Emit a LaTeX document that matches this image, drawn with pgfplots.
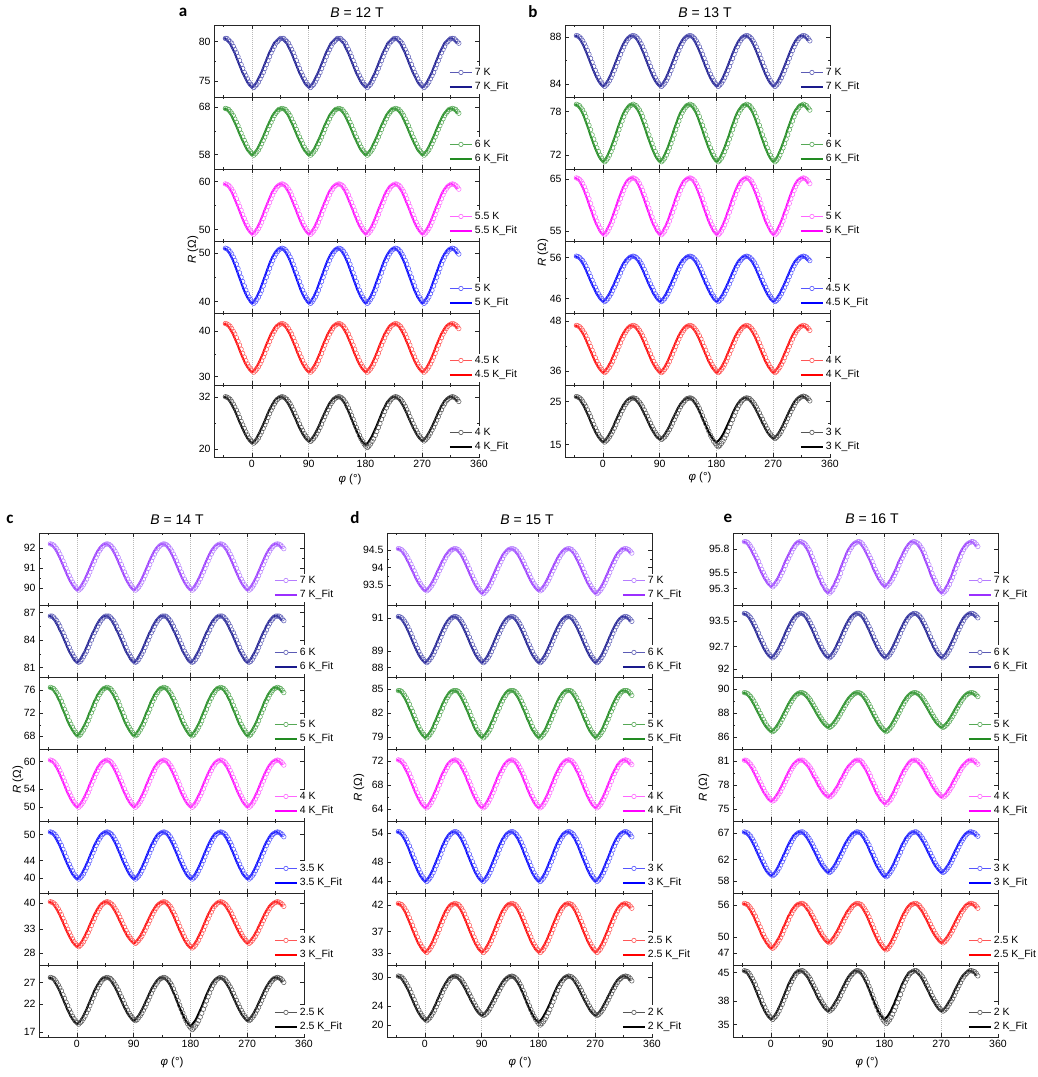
\documentclass[border=0pt]{standalone}
\usepackage{pgfplots}
\usepackage{pgfplotstable}
\pgfplotsset{compat=1.18}
\usepackage{fontspec}
\setmainfont{Liberation Sans}
\newfontfamily\letterfont{Carlito}

\definecolor{navyF}{HTML}{1A1A8C}
\definecolor{navyD}{HTML}{5B5BB5}
\definecolor{greenF}{HTML}{228B22}
\definecolor{greenD}{HTML}{55A855}
\definecolor{magF}{HTML}{FF00FF}
\definecolor{magD}{HTML}{FF66FF}
\definecolor{bluF}{HTML}{0000FF}
\definecolor{bluD}{HTML}{5555FF}
\definecolor{redF}{HTML}{FF0000}
\definecolor{redD}{HTML}{FF5555}
\definecolor{blkF}{HTML}{000000}
\definecolor{blkD}{HTML}{555555}
\definecolor{purF}{HTML}{9B30FF}
\definecolor{purD}{HTML}{B57CFF}

\pgfplotsset{
  sub/.style={width=265pt,height=72pt,scale only axis,xmin=-60,xmax=360,
    xtick={0,90,180,270,360},minor xtick={-45,45,135,225,315},xticklabels={},
    tick pos=both,tick align=inside,major tick length=4pt,minor tick length=2.2pt,
    minor y tick num=1,
    xmajorgrids,major grid style={gray!55,line width=0.5pt,dash pattern=on 1.2pt off 0.8pt},
    axis line style={line width=0.9pt,black!85},
    tick style={line width=0.6pt,black!85},
    tick label style={font=\fontsize{10.5}{12}\selectfont},
    /pgf/number format/assume math mode=true,
    legend style={at={(axis description cs:0.884,0.04)},anchor=south west,draw=none,fill=white,
      inner sep=0.5pt,font=\fontsize{10.5}{11}\selectfont,row sep=1.5pt},
    legend cell align=left,
    anchor=north west},
  bot/.style={xticklabels={0,90,180,270,360}},
  dat/.style={color=#1,only marks,mark=o,mark size=2.3pt,mark options={line width=0.5pt},
    legend image code/.code={\draw[#1,line width=0.6pt](0pt,0pt)--(22pt,0pt);
      \draw[#1,fill=white,line width=0.6pt](11pt,0pt) circle (2.2pt);}},
  fit/.style={color=#1,no marks,smooth,line width=2pt,
    legend image code/.code={\draw[#1,line width=2pt](0pt,0pt)--(22pt,0pt);}},
}

\pgfplotstableread{
xf xd a1 a2 a3 a4 a5 a6 a6d
-45 -42 80.4 67.7 59.5 51.0 41.6 32.1 32.1
-42.5 -39.5 80.4 67.6 59.4 50.9 41.5 32.0 32.0
-40 -37 80.2 67.5 59.2 50.7 41.3 31.8 31.8
-37.5 -34.5 80.0 67.1 58.9 50.3 41.0 31.5 31.5
-35 -32 79.8 66.7 58.4 49.8 40.5 31.0 31.0
-32.5 -29.5 79.4 66.2 57.9 49.2 39.9 30.4 30.4
-30 -27 79.0 65.5 57.2 48.5 39.3 29.7 29.7
-27.5 -24.5 78.6 64.8 56.4 47.7 38.5 29.0 29.0
-25 -22 78.1 64.1 55.6 46.8 37.7 28.2 28.2
-22.5 -19.5 77.6 63.3 54.8 45.9 36.9 27.3 27.3
-20 -17 77.1 62.5 54.0 45.0 36.0 26.4 26.4
-17.5 -14.5 76.6 61.7 53.1 44.1 35.1 25.6 25.6
-15 -12 76.1 61.0 52.3 43.2 34.3 24.8 24.8
-12.5 -9.5 75.7 60.3 51.5 42.3 33.5 24.0 24.0
-10 -7 75.3 59.6 50.8 41.6 32.8 23.3 23.3
-7.5 -4.5 74.9 59.0 50.2 40.9 32.2 22.6 22.6
-5 -2 74.6 58.6 49.7 40.4 31.7 22.1 22.1
-2.5 0.5 74.4 58.2 49.3 39.9 31.3 21.7 21.7
0 3 74.2 57.9 49.0 39.6 31.0 21.4 21.4
2.5 5.5 74.4 58.2 49.3 39.9 31.3 21.7 21.7
5 8 74.6 58.6 49.7 40.4 31.7 22.1 22.1
7.5 10.5 74.9 59.0 50.2 40.9 32.2 22.6 22.6
10 13 75.3 59.6 50.8 41.6 32.8 23.3 23.3
12.5 15.5 75.7 60.3 51.5 42.3 33.5 24.0 24.0
15 18 76.1 61.0 52.3 43.2 34.3 24.8 24.8
17.5 20.5 76.6 61.7 53.1 44.1 35.1 25.6 25.6
20 23 77.1 62.5 54.0 45.0 36.0 26.4 26.4
22.5 25.5 77.6 63.3 54.8 45.9 36.9 27.3 27.3
25 28 78.1 64.1 55.6 46.8 37.7 28.2 28.2
27.5 30.5 78.6 64.8 56.4 47.7 38.5 29.0 29.0
30 33 79.0 65.5 57.2 48.5 39.3 29.7 29.7
32.5 35.5 79.4 66.2 57.9 49.2 39.9 30.4 30.4
35 38 79.8 66.7 58.4 49.8 40.5 31.0 31.0
37.5 40.5 80.0 67.1 58.9 50.3 41.0 31.5 31.5
40 43 80.2 67.5 59.2 50.7 41.3 31.8 31.8
42.5 45.5 80.4 67.6 59.4 50.9 41.5 32.0 32.0
45 48 80.4 67.7 59.5 51.0 41.6 32.1 32.1
47.5 50.5 80.4 67.6 59.4 50.9 41.5 32.0 32.0
50 53 80.2 67.5 59.2 50.7 41.3 31.8 31.8
52.5 55.5 80.0 67.1 58.9 50.3 41.0 31.5 31.5
55 58 79.8 66.7 58.4 49.8 40.5 31.0 31.0
57.5 60.5 79.4 66.2 57.9 49.2 39.9 30.5 30.5
60 63 79.0 65.5 57.2 48.5 39.3 29.8 29.8
62.5 65.5 78.6 64.8 56.4 47.7 38.5 29.1 29.1
65 68 78.1 64.1 55.6 46.8 37.7 28.3 28.3
67.5 70.5 77.6 63.3 54.8 45.9 36.9 27.5 27.5
70 73 77.1 62.5 54.0 45.0 36.0 26.7 26.7
72.5 75.5 76.6 61.7 53.1 44.1 35.1 25.8 25.8
75 78 76.1 61.0 52.3 43.2 34.3 25.0 25.0
77.5 80.5 75.7 60.3 51.5 42.3 33.5 24.3 24.3
80 83 75.3 59.6 50.8 41.6 32.8 23.6 23.6
82.5 85.5 74.9 59.0 50.2 40.9 32.2 23.0 23.0
85 88 74.6 58.6 49.7 40.4 31.7 22.5 22.5
87.5 90.5 74.4 58.2 49.3 39.9 31.3 22.1 22.1
90 93 74.2 57.9 49.0 39.6 31.0 21.8 21.8
92.5 95.5 74.4 58.2 49.3 39.9 31.3 22.1 22.1
95 98 74.6 58.6 49.7 40.4 31.7 22.5 22.5
97.5 100.5 74.9 59.0 50.2 40.9 32.2 23.0 23.0
100 103 75.3 59.6 50.8 41.6 32.8 23.6 23.6
102.5 105.5 75.7 60.3 51.5 42.3 33.5 24.3 24.3
105 108 76.1 61.0 52.3 43.2 34.3 25.0 25.0
107.5 110.5 76.6 61.7 53.1 44.1 35.1 25.8 25.8
110 113 77.1 62.5 54.0 45.0 36.0 26.7 26.7
112.5 115.5 77.6 63.3 54.8 45.9 36.9 27.5 27.5
115 118 78.1 64.1 55.6 46.8 37.7 28.3 28.3
117.5 120.5 78.6 64.8 56.4 47.7 38.5 29.1 29.1
120 123 79.0 65.5 57.2 48.5 39.3 29.8 29.8
122.5 125.5 79.4 66.2 57.9 49.2 39.9 30.5 30.5
125 128 79.8 66.7 58.4 49.8 40.5 31.0 31.0
127.5 130.5 80.0 67.1 58.9 50.3 41.0 31.5 31.5
130 133 80.2 67.5 59.2 50.7 41.3 31.8 31.8
132.5 135.5 80.4 67.6 59.4 50.9 41.5 32.0 32.0
135 138 80.4 67.7 59.5 51.0 41.6 32.1 32.1
137.5 140.5 80.4 67.6 59.4 50.9 41.5 32.0 32.0
140 143 80.2 67.5 59.2 50.7 41.3 31.8 31.8
142.5 145.5 80.0 67.1 58.9 50.3 41.0 31.4 31.4
145 148 79.8 66.7 58.4 49.8 40.5 31.0 30.9
147.5 150.5 79.4 66.2 57.9 49.2 39.9 30.4 30.3
150 153 79.0 65.5 57.2 48.5 39.3 29.6 29.5
152.5 155.5 78.6 64.8 56.4 47.7 38.5 28.9 28.7
155 158 78.1 64.1 55.6 46.8 37.7 28.0 27.8
157.5 160.5 77.6 63.3 54.8 45.9 36.9 27.1 26.9
160 163 77.1 62.5 54.0 45.0 36.0 26.2 25.9
162.5 165.5 76.6 61.7 53.1 44.1 35.1 25.3 25.0
165 168 76.1 61.0 52.3 43.2 34.3 24.5 24.1
167.5 170.5 75.7 60.3 51.5 42.3 33.5 23.7 23.2
170 173 75.3 59.6 50.8 41.6 32.8 22.9 22.4
172.5 175.5 74.9 59.0 50.2 40.9 32.2 22.3 21.8
175 178 74.6 58.6 49.7 40.4 31.7 21.7 21.2
177.5 180.5 74.4 58.2 49.3 39.9 31.3 21.3 20.7
180 183 74.2 57.9 49.0 39.6 31.0 21.0 20.4
182.5 185.5 74.4 58.2 49.3 39.9 31.3 21.3 20.7
185 188 74.6 58.6 49.7 40.4 31.7 21.7 21.2
187.5 190.5 74.9 59.0 50.2 40.9 32.2 22.3 21.8
190 193 75.3 59.6 50.8 41.6 32.8 22.9 22.4
192.5 195.5 75.7 60.3 51.5 42.3 33.5 23.7 23.2
195 198 76.1 61.0 52.3 43.2 34.3 24.5 24.1
197.5 200.5 76.6 61.7 53.1 44.1 35.1 25.3 25.0
200 203 77.1 62.5 54.0 45.0 36.0 26.2 25.9
202.5 205.5 77.6 63.3 54.8 45.9 36.9 27.1 26.9
205 208 78.1 64.1 55.6 46.8 37.7 28.0 27.8
207.5 210.5 78.6 64.8 56.4 47.7 38.5 28.9 28.7
210 213 79.0 65.5 57.2 48.5 39.3 29.6 29.5
212.5 215.5 79.4 66.2 57.9 49.2 39.9 30.4 30.3
215 218 79.8 66.7 58.4 49.8 40.5 31.0 30.9
217.5 220.5 80.0 67.1 58.9 50.3 41.0 31.4 31.4
220 223 80.2 67.5 59.2 50.7 41.3 31.8 31.8
222.5 225.5 80.4 67.6 59.4 50.9 41.5 32.0 32.0
225 228 80.4 67.7 59.5 51.0 41.6 32.1 32.1
227.5 230.5 80.4 67.6 59.4 50.9 41.5 32.0 32.0
230 233 80.2 67.5 59.2 50.7 41.3 31.8 31.8
232.5 235.5 80.0 67.1 58.9 50.3 41.0 31.5 31.5
235 238 79.8 66.7 58.4 49.8 40.5 31.1 31.1
237.5 240.5 79.4 66.2 57.9 49.2 39.9 30.5 30.5
240 243 79.0 65.5 57.2 48.5 39.3 29.9 29.9
242.5 245.5 78.6 64.8 56.4 47.7 38.5 29.1 29.1
245 248 78.1 64.1 55.6 46.8 37.7 28.4 28.4
247.5 250.5 77.6 63.3 54.8 45.9 36.9 27.5 27.5
250 253 77.1 62.5 54.0 45.0 36.0 26.7 26.7
252.5 255.5 76.6 61.7 53.1 44.1 35.1 25.9 25.9
255 258 76.1 61.0 52.3 43.2 34.3 25.1 25.1
257.5 260.5 75.7 60.3 51.5 42.3 33.5 24.4 24.4
260 263 75.3 59.6 50.8 41.6 32.8 23.7 23.7
262.5 265.5 74.9 59.0 50.2 40.9 32.2 23.1 23.1
265 268 74.6 58.6 49.7 40.4 31.7 22.6 22.6
267.5 270.5 74.4 58.2 49.3 39.9 31.3 22.2 22.2
270 273 74.2 57.9 49.0 39.6 31.0 21.9 21.9
272.5 275.5 74.4 58.2 49.3 39.9 31.3 22.2 22.2
275 278 74.6 58.6 49.7 40.4 31.7 22.6 22.6
277.5 280.5 74.9 59.0 50.2 40.9 32.2 23.1 23.1
280 283 75.3 59.6 50.8 41.6 32.8 23.7 23.7
282.5 285.5 75.7 60.3 51.5 42.3 33.5 24.4 24.4
285 288 76.1 61.0 52.3 43.2 34.3 25.1 25.1
287.5 290.5 76.6 61.7 53.1 44.1 35.1 25.9 25.9
290 293 77.1 62.5 54.0 45.0 36.0 26.7 26.7
292.5 295.5 77.6 63.3 54.8 45.9 36.9 27.5 27.5
295 298 78.1 64.1 55.6 46.8 37.7 28.4 28.4
297.5 300.5 78.6 64.8 56.4 47.7 38.5 29.1 29.1
300 303 79.0 65.5 57.2 48.5 39.3 29.9 29.9
302.5 305.5 79.4 66.2 57.9 49.2 39.9 30.5 30.5
305 308 79.8 66.7 58.4 49.8 40.5 31.1 31.1
307.5 310.5 80.0 67.1 58.9 50.3 41.0 31.5 31.5
310 313 80.2 67.5 59.2 50.7 41.3 31.8 31.8
312.5 315.5 80.4 67.6 59.4 50.9 41.5 32.0 32.0
315 318 80.4 67.7 59.5 51.0 41.6 32.1 32.1
317.5 320.5 80.4 67.6 59.4 50.9 41.5 32.0 32.0
320 323 80.2 67.5 59.2 50.7 41.3 31.8 31.8
322.5 325.5 80.0 67.1 58.9 50.3 41.0 31.5 31.5
325 328 79.8 66.7 58.4 49.8 40.5 31.0 31.0
}\TA

\pgfplotstableread{
xf xd b1 b2 b3 b4 b5 b6 b6d
-45 -42 88.1 79.0 65.2 56.4 47.0 26.2 26.2
-42.5 -39.5 88.07 78.9 65.1 56.3 46.9 26.1 26.1
-40 -37 87.99 78.8 64.9 56.1 46.7 25.9 25.9
-37.5 -34.5 87.85 78.5 64.6 55.7 46.3 25.6 25.6
-35 -32 87.66 78.2 64.1 55.3 45.8 25.1 25.1
-32.5 -29.5 87.42 77.8 63.5 54.7 45.2 24.5 24.5
-30 -27 87.15 77.3 62.8 54.0 44.5 23.9 23.9
-27.5 -24.5 86.84 76.7 62.0 53.2 43.7 23.1 23.1
-25 -22 86.52 76.1 61.2 52.3 42.8 22.3 22.3
-22.5 -19.5 86.17 75.5 60.3 51.4 41.9 21.5 21.5
-20 -17 85.83 74.8 59.4 50.5 41.0 20.6 20.6
-17.5 -14.5 85.48 74.2 58.6 49.6 40.1 19.7 19.7
-15 -12 85.15 73.6 57.7 48.8 39.2 18.9 18.9
-12.5 -9.5 84.83 73.0 56.9 48.0 38.3 18.1 18.1
-10 -7 84.54 72.5 56.2 47.2 37.6 17.4 17.4
-7.5 -4.5 84.29 72.0 55.6 46.6 36.9 16.8 16.8
-5 -2 84.08 71.6 55.0 46.0 36.4 16.3 16.3
-2.5 0.5 83.92 71.3 54.6 45.6 35.9 15.9 15.9
0 3 83.8 71.1 54.3 45.3 35.6 15.6 15.6
2.5 5.5 83.92 71.3 54.6 45.6 35.9 15.9 15.9
5 8 84.08 71.6 55.0 46.0 36.4 16.3 16.3
7.5 10.5 84.29 72.0 55.6 46.6 36.9 16.8 16.8
10 13 84.54 72.5 56.2 47.2 37.6 17.4 17.4
12.5 15.5 84.83 73.0 56.9 48.0 38.3 18.1 18.1
15 18 85.15 73.6 57.7 48.8 39.2 18.8 18.8
17.5 20.5 85.48 74.2 58.6 49.6 40.1 19.6 19.6
20 23 85.83 74.8 59.4 50.5 41.0 20.5 20.5
22.5 25.5 86.17 75.5 60.3 51.4 41.9 21.3 21.3
25 28 86.52 76.1 61.2 52.3 42.8 22.1 22.1
27.5 30.5 86.84 76.7 62.0 53.2 43.7 22.9 22.9
30 33 87.15 77.3 62.8 54.0 44.5 23.6 23.6
32.5 35.5 87.42 77.8 63.5 54.7 45.2 24.3 24.3
35 38 87.66 78.2 64.1 55.3 45.8 24.8 24.8
37.5 40.5 87.85 78.5 64.6 55.7 46.3 25.3 25.3
40 43 87.99 78.8 64.9 56.1 46.7 25.6 25.6
42.5 45.5 88.07 78.9 65.1 56.3 46.9 25.8 25.8
45 48 88.1 79.0 65.2 56.4 47.0 25.9 25.9
47.5 50.5 88.07 78.9 65.1 56.3 46.9 25.8 25.8
50 53 87.99 78.8 64.9 56.1 46.7 25.7 25.7
52.5 55.5 87.85 78.5 64.6 55.7 46.3 25.3 25.3
55 58 87.66 78.2 64.1 55.3 45.8 24.9 24.9
57.5 60.5 87.42 77.8 63.5 54.7 45.2 24.4 24.4
60 63 87.15 77.3 62.8 54.0 44.5 23.8 23.8
62.5 65.5 86.84 76.7 62.0 53.2 43.7 23.1 23.1
65 68 86.52 76.1 61.2 52.3 42.8 22.3 22.3
67.5 70.5 86.17 75.5 60.3 51.4 41.9 21.6 21.6
70 73 85.83 74.8 59.4 50.5 41.0 20.8 20.8
72.5 75.5 85.48 74.2 58.6 49.6 40.1 20.0 20.0
75 78 85.15 73.6 57.7 48.8 39.2 19.2 19.2
77.5 80.5 84.83 73.0 56.9 48.0 38.3 18.5 18.5
80 83 84.54 72.5 56.2 47.2 37.6 17.9 17.9
82.5 85.5 84.29 72.0 55.6 46.6 36.9 17.3 17.3
85 88 84.08 71.6 55.0 46.0 36.4 16.8 16.8
87.5 90.5 83.92 71.3 54.6 45.6 35.9 16.5 16.5
90 93 83.8 71.1 54.3 45.3 35.6 16.2 16.2
92.5 95.5 83.92 71.3 54.6 45.6 35.9 16.5 16.5
95 98 84.08 71.6 55.0 46.0 36.4 16.8 16.8
97.5 100.5 84.29 72.0 55.6 46.6 36.9 17.3 17.3
100 103 84.54 72.5 56.2 47.2 37.6 17.9 17.9
102.5 105.5 84.83 73.0 56.9 48.0 38.3 18.5 18.5
105 108 85.15 73.6 57.7 48.8 39.2 19.2 19.2
107.5 110.5 85.48 74.2 58.6 49.6 40.1 20.0 20.0
110 113 85.83 74.8 59.4 50.5 41.0 20.8 20.8
112.5 115.5 86.17 75.5 60.3 51.4 41.9 21.6 21.6
115 118 86.52 76.1 61.2 52.3 42.8 22.3 22.3
117.5 120.5 86.84 76.7 62.0 53.2 43.7 23.1 23.1
120 123 87.15 77.3 62.8 54.0 44.5 23.8 23.8
122.5 125.5 87.42 77.8 63.5 54.7 45.2 24.4 24.4
125 128 87.66 78.2 64.1 55.3 45.8 24.9 24.9
127.5 130.5 87.85 78.5 64.6 55.7 46.3 25.3 25.3
130 133 87.99 78.8 64.9 56.1 46.7 25.7 25.7
132.5 135.5 88.07 78.9 65.1 56.3 46.9 25.8 25.8
135 138 88.1 79.0 65.2 56.4 47.0 25.9 25.9
137.5 140.5 88.07 78.9 65.1 56.3 46.9 25.8 25.8
140 143 87.99 78.8 64.9 56.1 46.7 25.6 25.6
142.5 145.5 87.85 78.5 64.6 55.7 46.3 25.3 25.2
145 148 87.66 78.2 64.1 55.3 45.8 24.8 24.7
147.5 150.5 87.42 77.8 63.5 54.7 45.2 24.3 24.1
150 153 87.15 77.3 62.8 54.0 44.5 23.6 23.4
152.5 155.5 86.84 76.7 62.0 53.2 43.7 22.9 22.6
155 158 86.52 76.1 61.2 52.3 42.8 22.1 21.7
157.5 160.5 86.17 75.5 60.3 51.4 41.9 21.2 20.8
160 163 85.83 74.8 59.4 50.5 41.0 20.4 19.9
162.5 165.5 85.48 74.2 58.6 49.6 40.1 19.6 19.0
165 168 85.15 73.6 57.7 48.8 39.2 18.8 18.1
167.5 170.5 84.83 73.0 56.9 48.0 38.3 18.0 17.2
170 173 84.54 72.5 56.2 47.2 37.6 17.3 16.5
172.5 175.5 84.29 72.0 55.6 46.6 36.9 16.7 15.8
175 178 84.08 71.6 55.0 46.0 36.4 16.2 15.3
177.5 180.5 83.92 71.3 54.6 45.6 35.9 15.8 14.8
180 183 83.8 71.1 54.3 45.3 35.6 15.5 14.5
182.5 185.5 83.92 71.3 54.6 45.6 35.9 15.8 14.8
185 188 84.08 71.6 55.0 46.0 36.4 16.2 15.3
187.5 190.5 84.29 72.0 55.6 46.6 36.9 16.7 15.8
190 193 84.54 72.5 56.2 47.2 37.6 17.3 16.5
192.5 195.5 84.83 73.0 56.9 48.0 38.3 18.0 17.2
195 198 85.15 73.6 57.7 48.8 39.2 18.8 18.1
197.5 200.5 85.48 74.2 58.6 49.6 40.1 19.6 19.0
200 203 85.83 74.8 59.4 50.5 41.0 20.4 19.9
202.5 205.5 86.17 75.5 60.3 51.4 41.9 21.2 20.8
205 208 86.52 76.1 61.2 52.3 42.8 22.1 21.7
207.5 210.5 86.84 76.7 62.0 53.2 43.7 22.9 22.6
210 213 87.15 77.3 62.8 54.0 44.5 23.6 23.4
212.5 215.5 87.42 77.8 63.5 54.7 45.2 24.3 24.1
215 218 87.66 78.2 64.1 55.3 45.8 24.8 24.7
217.5 220.5 87.85 78.5 64.6 55.7 46.3 25.3 25.2
220 223 87.99 78.8 64.9 56.1 46.7 25.6 25.6
222.5 225.5 88.07 78.9 65.1 56.3 46.9 25.8 25.8
225 228 88.1 79.0 65.2 56.4 47.0 25.9 25.9
227.5 230.5 88.07 78.9 65.1 56.3 46.9 25.8 25.8
230 233 87.99 78.8 64.9 56.1 46.7 25.7 25.7
232.5 235.5 87.85 78.5 64.6 55.7 46.3 25.3 25.3
235 238 87.66 78.2 64.1 55.3 45.8 24.9 24.9
237.5 240.5 87.42 77.8 63.5 54.7 45.2 24.4 24.4
240 243 87.15 77.3 62.8 54.0 44.5 23.8 23.8
242.5 245.5 86.84 76.7 62.0 53.2 43.7 23.1 23.1
245 248 86.52 76.1 61.2 52.3 42.8 22.4 22.4
247.5 250.5 86.17 75.5 60.3 51.4 41.9 21.6 21.6
250 253 85.83 74.8 59.4 50.5 41.0 20.9 20.9
252.5 255.5 85.48 74.2 58.6 49.6 40.1 20.1 20.1
255 258 85.15 73.6 57.7 48.8 39.2 19.4 19.4
257.5 260.5 84.83 73.0 56.9 48.0 38.3 18.7 18.7
260 263 84.54 72.5 56.2 47.2 37.6 18.0 18.0
262.5 265.5 84.29 72.0 55.6 46.6 36.9 17.5 17.5
265 268 84.08 71.6 55.0 46.0 36.4 17.0 17.0
267.5 270.5 83.92 71.3 54.6 45.6 35.9 16.7 16.7
270 273 83.8 71.1 54.3 45.3 35.6 16.4 16.4
272.5 275.5 83.92 71.3 54.6 45.6 35.9 16.7 16.7
275 278 84.08 71.6 55.0 46.0 36.4 17.1 17.1
277.5 280.5 84.29 72.0 55.6 46.6 36.9 17.5 17.5
280 283 84.54 72.5 56.2 47.2 37.6 18.1 18.1
282.5 285.5 84.83 73.0 56.9 48.0 38.3 18.8 18.8
285 288 85.15 73.6 57.7 48.8 39.2 19.5 19.5
287.5 290.5 85.48 74.2 58.6 49.6 40.1 20.3 20.3
290 293 85.83 74.8 59.4 50.5 41.0 21.1 21.1
292.5 295.5 86.17 75.5 60.3 51.4 41.9 21.9 21.9
295 298 86.52 76.1 61.2 52.3 42.8 22.7 22.7
297.5 300.5 86.84 76.7 62.0 53.2 43.7 23.4 23.4
300 303 87.15 77.3 62.8 54.0 44.5 24.1 24.1
302.5 305.5 87.42 77.8 63.5 54.7 45.2 24.8 24.8
305 308 87.66 78.2 64.1 55.3 45.8 25.3 25.3
307.5 310.5 87.85 78.5 64.6 55.7 46.3 25.7 25.7
310 313 87.99 78.8 64.9 56.1 46.7 26.0 26.0
312.5 315.5 88.07 78.9 65.1 56.3 46.9 26.2 26.2
315 318 88.1 79.0 65.2 56.4 47.0 26.3 26.3
317.5 320.5 88.07 78.9 65.1 56.3 46.9 26.2 26.2
320 323 87.99 78.8 64.9 56.1 46.7 26.0 26.0
322.5 325.5 87.85 78.5 64.6 55.7 46.3 25.7 25.7
325 328 87.66 78.2 64.1 55.3 45.8 25.2 25.2
}\TB

\pgfplotstableread{
xf xd c1 c2 c3 c4 c5 c6 c7 c7d
-45 -42 92.2 86.6 76.5 60.3 50.6 40.3 28.0 28.0
-42.5 -39.5 92.18 86.6 76.4 60.2 50.5 40.2 27.9 27.9
-40 -37 92.14 86.5 76.3 60.0 50.3 40.0 27.8 27.8
-37.5 -34.5 92.06 86.3 76.0 59.7 50.0 39.7 27.5 27.5
-35 -32 91.96 86.1 75.6 59.2 49.5 39.2 27.0 27.0
-32.5 -29.5 91.84 85.8 75.2 58.7 48.9 38.6 26.5 26.5
-30 -27 91.69 85.5 74.6 58.0 48.2 37.9 25.9 25.9
-27.5 -24.5 91.53 85.1 74.1 57.3 47.5 37.2 25.3 25.3
-25 -22 91.35 84.8 73.4 56.5 46.6 36.3 24.5 24.5
-22.5 -19.5 91.17 84.4 72.7 55.7 45.8 35.5 23.8 23.8
-20 -17 90.98 84.0 72.1 54.9 44.9 34.6 23.0 23.0
-17.5 -14.5 90.8 83.6 71.4 54.0 44.0 33.7 22.3 22.3
-15 -12 90.62 83.2 70.7 53.2 43.2 32.9 21.5 21.5
-12.5 -9.5 90.45 82.8 70.1 52.5 42.4 32.1 20.9 20.9
-10 -7 90.3 82.5 69.6 51.8 41.7 31.4 20.2 20.2
-7.5 -4.5 90.17 82.2 69.1 51.2 41.0 30.7 19.7 19.7
-5 -2 90.05 81.9 68.7 50.7 40.5 30.2 19.2 19.2
-2.5 0.5 89.96 81.7 68.3 50.3 40.1 29.8 18.9 18.9
0 3 89.9 81.6 68.1 50.0 39.8 29.5 18.6 18.6
2.5 5.5 89.96 81.7 68.3 50.3 40.1 29.8 18.9 18.9
5 8 90.05 81.9 68.7 50.7 40.5 30.2 19.2 19.2
7.5 10.5 90.17 82.2 69.1 51.2 41.0 30.7 19.7 19.7
10 13 90.3 82.5 69.6 51.8 41.7 31.4 20.2 20.2
12.5 15.5 90.45 82.8 70.1 52.5 42.4 32.1 20.9 20.9
15 18 90.62 83.2 70.7 53.2 43.2 32.9 21.5 21.5
17.5 20.5 90.8 83.6 71.4 54.0 44.0 33.7 22.3 22.3
20 23 90.98 84.0 72.1 54.9 44.9 34.6 23.0 23.0
22.5 25.5 91.17 84.4 72.7 55.7 45.8 35.5 23.8 23.8
25 28 91.35 84.8 73.4 56.5 46.6 36.3 24.5 24.5
27.5 30.5 91.53 85.1 74.1 57.3 47.5 37.2 25.3 25.3
30 33 91.69 85.5 74.6 58.0 48.2 37.9 25.9 25.9
32.5 35.5 91.84 85.8 75.2 58.7 48.9 38.6 26.5 26.5
35 38 91.96 86.1 75.6 59.2 49.5 39.2 27.0 27.0
37.5 40.5 92.06 86.3 76.0 59.7 50.0 39.7 27.5 27.5
40 43 92.14 86.5 76.3 60.0 50.3 40.0 27.8 27.8
42.5 45.5 92.18 86.6 76.4 60.2 50.5 40.2 27.9 27.9
45 48 92.2 86.6 76.5 60.3 50.6 40.3 28.0 28.0
47.5 50.5 92.18 86.6 76.4 60.2 50.5 40.2 27.9 27.9
50 53 92.14 86.5 76.3 60.0 50.3 40.0 27.8 27.8
52.5 55.5 92.06 86.3 76.0 59.7 50.0 39.7 27.5 27.5
55 58 91.96 86.1 75.6 59.2 49.5 39.3 27.1 27.1
57.5 60.5 91.84 85.8 75.2 58.7 48.9 38.7 26.6 26.6
60 63 91.69 85.5 74.6 58.0 48.2 38.1 26.1 26.1
62.5 65.5 91.53 85.1 74.1 57.3 47.5 37.4 25.5 25.5
65 68 91.35 84.8 73.4 56.5 46.6 36.6 24.8 24.8
67.5 70.5 91.17 84.4 72.7 55.7 45.8 35.8 24.1 24.1
70 73 90.98 84.0 72.1 54.9 44.9 35.0 23.4 23.4
72.5 75.5 90.8 83.6 71.4 54.0 44.0 34.2 22.7 22.7
75 78 90.62 83.2 70.7 53.2 43.2 33.4 22.0 22.0
77.5 80.5 90.45 82.8 70.1 52.5 42.4 32.7 21.4 21.4
80 83 90.3 82.5 69.6 51.8 41.7 32.0 20.8 20.8
82.5 85.5 90.17 82.2 69.1 51.2 41.0 31.5 20.3 20.3
85 88 90.05 81.9 68.7 50.7 40.5 31.0 19.9 19.9
87.5 90.5 89.96 81.7 68.3 50.3 40.1 30.6 19.5 19.5
90 93 89.9 81.6 68.1 50.0 39.8 30.3 19.3 19.3
92.5 95.5 89.96 81.7 68.3 50.3 40.1 30.6 19.5 19.5
95 98 90.05 81.9 68.7 50.7 40.5 31.0 19.9 19.9
97.5 100.5 90.17 82.2 69.1 51.2 41.0 31.5 20.3 20.3
100 103 90.3 82.5 69.6 51.8 41.7 32.0 20.8 20.8
102.5 105.5 90.45 82.8 70.1 52.5 42.4 32.7 21.4 21.4
105 108 90.62 83.2 70.7 53.2 43.2 33.4 22.0 22.0
107.5 110.5 90.8 83.6 71.4 54.0 44.0 34.2 22.7 22.7
110 113 90.98 84.0 72.1 54.9 44.9 35.0 23.4 23.4
112.5 115.5 91.17 84.4 72.7 55.7 45.8 35.8 24.1 24.1
115 118 91.35 84.8 73.4 56.5 46.6 36.6 24.8 24.8
117.5 120.5 91.53 85.1 74.1 57.3 47.5 37.4 25.5 25.5
120 123 91.69 85.5 74.6 58.0 48.2 38.1 26.1 26.1
122.5 125.5 91.84 85.8 75.2 58.7 48.9 38.7 26.6 26.6
125 128 91.96 86.1 75.6 59.2 49.5 39.3 27.1 27.1
127.5 130.5 92.06 86.3 76.0 59.7 50.0 39.7 27.5 27.5
130 133 92.14 86.5 76.3 60.0 50.3 40.0 27.8 27.8
132.5 135.5 92.18 86.6 76.4 60.2 50.5 40.2 27.9 27.9
135 138 92.2 86.6 76.5 60.3 50.6 40.3 28.0 28.0
137.5 140.5 92.18 86.6 76.4 60.2 50.5 40.2 27.9 27.9
140 143 92.14 86.5 76.3 60.0 50.3 40.0 27.7 27.7
142.5 145.5 92.06 86.3 76.0 59.7 50.0 39.6 27.4 27.4
145 148 91.96 86.1 75.6 59.2 49.5 39.2 27.0 26.9
147.5 150.5 91.84 85.8 75.2 58.7 48.9 38.6 26.5 26.4
150 153 91.69 85.5 74.6 58.0 48.2 37.8 25.8 25.7
152.5 155.5 91.53 85.1 74.1 57.3 47.5 37.1 25.1 24.9
155 158 91.35 84.8 73.4 56.5 46.6 36.2 24.4 24.1
157.5 160.5 91.17 84.4 72.7 55.7 45.8 35.3 23.6 23.3
160 163 90.98 84.0 72.1 54.9 44.9 34.4 22.8 22.4
162.5 165.5 90.8 83.6 71.4 54.0 44.0 33.5 22.0 21.6
165 168 90.62 83.2 70.7 53.2 43.2 32.7 21.3 20.8
167.5 170.5 90.45 82.8 70.1 52.5 42.4 31.9 20.6 20.0
170 173 90.3 82.5 69.6 51.8 41.7 31.1 19.9 19.3
172.5 175.5 90.17 82.2 69.1 51.2 41.0 30.5 19.3 18.7
175 178 90.05 81.9 68.7 50.7 40.5 29.9 18.9 18.2
177.5 180.5 89.96 81.7 68.3 50.3 40.1 29.5 18.5 17.8
180 183 89.9 81.6 68.1 50.0 39.8 29.2 18.2 17.5
182.5 185.5 89.96 81.7 68.3 50.3 40.1 29.5 18.5 17.8
185 188 90.05 81.9 68.7 50.7 40.5 29.9 18.9 18.2
187.5 190.5 90.17 82.2 69.1 51.2 41.0 30.5 19.3 18.7
190 193 90.3 82.5 69.6 51.8 41.7 31.1 19.9 19.3
192.5 195.5 90.45 82.8 70.1 52.5 42.4 31.9 20.6 20.0
195 198 90.62 83.2 70.7 53.2 43.2 32.7 21.3 20.8
197.5 200.5 90.8 83.6 71.4 54.0 44.0 33.5 22.0 21.6
200 203 90.98 84.0 72.1 54.9 44.9 34.4 22.8 22.4
202.5 205.5 91.17 84.4 72.7 55.7 45.8 35.3 23.6 23.3
205 208 91.35 84.8 73.4 56.5 46.6 36.2 24.4 24.1
207.5 210.5 91.53 85.1 74.1 57.3 47.5 37.1 25.1 24.9
210 213 91.69 85.5 74.6 58.0 48.2 37.8 25.8 25.7
212.5 215.5 91.84 85.8 75.2 58.7 48.9 38.6 26.5 26.4
215 218 91.96 86.1 75.6 59.2 49.5 39.2 27.0 26.9
217.5 220.5 92.06 86.3 76.0 59.7 50.0 39.6 27.4 27.4
220 223 92.14 86.5 76.3 60.0 50.3 40.0 27.7 27.7
222.5 225.5 92.18 86.6 76.4 60.2 50.5 40.2 27.9 27.9
225 228 92.2 86.6 76.5 60.3 50.6 40.3 28.0 28.0
227.5 230.5 92.18 86.6 76.4 60.2 50.5 40.2 27.9 27.9
230 233 92.14 86.5 76.3 60.0 50.3 40.0 27.8 27.8
232.5 235.5 92.06 86.3 76.0 59.7 50.0 39.7 27.5 27.5
235 238 91.96 86.1 75.6 59.2 49.5 39.3 27.1 27.1
237.5 240.5 91.84 85.8 75.2 58.7 48.9 38.7 26.6 26.6
240 243 91.69 85.5 74.6 58.0 48.2 38.1 26.1 26.1
242.5 245.5 91.53 85.1 74.1 57.3 47.5 37.4 25.5 25.5
245 248 91.35 84.8 73.4 56.5 46.6 36.6 24.8 24.8
247.5 250.5 91.17 84.4 72.7 55.7 45.8 35.8 24.1 24.1
250 253 90.98 84.0 72.1 54.9 44.9 35.0 23.4 23.4
252.5 255.5 90.8 83.6 71.4 54.0 44.0 34.2 22.7 22.7
255 258 90.62 83.2 70.7 53.2 43.2 33.4 22.0 22.0
257.5 260.5 90.45 82.8 70.1 52.5 42.4 32.7 21.4 21.4
260 263 90.3 82.5 69.6 51.8 41.7 32.0 20.8 20.8
262.5 265.5 90.17 82.2 69.1 51.2 41.0 31.5 20.3 20.3
265 268 90.05 81.9 68.7 50.7 40.5 31.0 19.9 19.9
267.5 270.5 89.96 81.7 68.3 50.3 40.1 30.6 19.5 19.5
270 273 89.9 81.6 68.1 50.0 39.8 30.3 19.3 19.3
272.5 275.5 89.96 81.7 68.3 50.3 40.1 30.6 19.5 19.5
275 278 90.05 81.9 68.7 50.7 40.5 31.0 19.9 19.9
277.5 280.5 90.17 82.2 69.1 51.2 41.0 31.5 20.3 20.3
280 283 90.3 82.5 69.6 51.8 41.7 32.0 20.8 20.8
282.5 285.5 90.45 82.8 70.1 52.5 42.4 32.7 21.4 21.4
285 288 90.62 83.2 70.7 53.2 43.2 33.4 22.0 22.0
287.5 290.5 90.8 83.6 71.4 54.0 44.0 34.2 22.7 22.7
290 293 90.98 84.0 72.1 54.9 44.9 35.0 23.4 23.4
292.5 295.5 91.17 84.4 72.7 55.7 45.8 35.8 24.1 24.1
295 298 91.35 84.8 73.4 56.5 46.6 36.6 24.8 24.8
297.5 300.5 91.53 85.1 74.1 57.3 47.5 37.4 25.5 25.5
300 303 91.69 85.5 74.6 58.0 48.2 38.1 26.1 26.1
302.5 305.5 91.84 85.8 75.2 58.7 48.9 38.7 26.6 26.6
305 308 91.96 86.1 75.6 59.2 49.5 39.3 27.1 27.1
307.5 310.5 92.06 86.3 76.0 59.7 50.0 39.7 27.5 27.5
310 313 92.14 86.5 76.3 60.0 50.3 40.0 27.8 27.8
312.5 315.5 92.18 86.6 76.4 60.2 50.5 40.2 27.9 27.9
315 318 92.2 86.6 76.5 60.3 50.6 40.3 28.0 28.0
317.5 320.5 92.18 86.6 76.4 60.2 50.5 40.2 27.9 27.9
320 323 92.14 86.5 76.3 60.0 50.3 40.0 27.8 27.8
322.5 325.5 92.06 86.3 76.0 59.7 50.0 39.7 27.5 27.5
325 328 91.96 86.1 75.6 59.2 49.5 39.2 27.0 27.0
}\TC

\pgfplotstableread{
xf xd d1 d2 d3 d4 d5 d6 d7 d7d
-45 -42 94.55 91.1 84.8 72.2 54.3 42.3 30.2 30.2
-42.5 -39.5 94.54 91.08 84.8 72.1 54.2 42.2 30.1 30.1
-40 -37 94.52 91.03 84.7 72.0 54.0 42.1 30.0 30.0
-37.5 -34.5 94.48 90.94 84.5 71.7 53.7 41.8 29.7 29.7
-35 -32 94.42 90.81 84.2 71.4 53.2 41.4 29.2 29.2
-32.5 -29.5 94.36 90.66 83.9 70.9 52.7 40.9 28.7 28.7
-30 -27 94.28 90.48 83.5 70.4 52.0 40.3 28.1 28.1
-27.5 -24.5 94.19 90.28 83.1 69.9 51.3 39.6 27.5 27.5
-25 -22 94.1 90.07 82.6 69.3 50.5 38.9 26.8 26.8
-22.5 -19.5 94.0 89.85 82.2 68.6 49.6 38.2 26.0 26.0
-20 -17 93.91 89.62 81.7 68.0 48.8 37.4 25.3 25.3
-17.5 -14.5 93.81 89.39 81.2 67.3 48.0 36.7 24.5 24.5
-15 -12 93.71 89.18 80.8 66.7 47.2 36.0 23.8 23.8
-12.5 -9.5 93.62 88.97 80.3 66.1 46.4 35.3 23.1 23.1
-10 -7 93.54 88.78 79.9 65.6 45.7 34.7 22.5 22.5
-7.5 -4.5 93.47 88.62 79.6 65.1 45.1 34.2 22.0 22.0
-5 -2 93.41 88.49 79.3 64.7 44.6 33.7 21.5 21.5
-2.5 0.5 93.36 88.38 79.1 64.4 44.2 33.4 21.2 21.2
0 3 93.33 88.3 78.9 64.2 43.9 33.1 20.9 20.9
2.5 5.5 93.36 88.38 79.1 64.4 44.2 33.4 21.2 21.2
5 8 93.41 88.49 79.3 64.7 44.6 33.7 21.5 21.5
7.5 10.5 93.47 88.62 79.6 65.1 45.1 34.2 22.0 22.0
10 13 93.54 88.78 79.9 65.6 45.7 34.7 22.5 22.5
12.5 15.5 93.62 88.97 80.3 66.1 46.4 35.3 23.1 23.1
15 18 93.71 89.18 80.8 66.7 47.2 36.0 23.8 23.8
17.5 20.5 93.81 89.39 81.2 67.3 48.0 36.7 24.5 24.5
20 23 93.91 89.62 81.7 68.0 48.8 37.4 25.3 25.3
22.5 25.5 94.0 89.85 82.2 68.6 49.6 38.2 26.0 26.0
25 28 94.1 90.07 82.6 69.3 50.5 38.9 26.8 26.8
27.5 30.5 94.19 90.28 83.1 69.9 51.3 39.6 27.5 27.5
30 33 94.28 90.48 83.5 70.4 52.0 40.3 28.1 28.1
32.5 35.5 94.36 90.66 83.9 70.9 52.7 40.9 28.7 28.7
35 38 94.42 90.81 84.2 71.4 53.2 41.4 29.2 29.2
37.5 40.5 94.48 90.94 84.5 71.7 53.7 41.8 29.7 29.7
40 43 94.52 91.03 84.7 72.0 54.0 42.1 30.0 30.0
42.5 45.5 94.54 91.08 84.8 72.1 54.2 42.2 30.1 30.1
45 48 94.55 91.1 84.8 72.2 54.3 42.3 30.2 30.2
47.5 50.5 94.54 91.08 84.8 72.1 54.2 42.2 30.1 30.1
50 53 94.52 91.03 84.7 72.0 54.0 42.1 30.0 30.0
52.5 55.5 94.47 90.94 84.5 71.7 53.7 41.8 29.7 29.7
55 58 94.42 90.81 84.2 71.4 53.2 41.4 29.4 29.4
57.5 60.5 94.35 90.66 83.9 70.9 52.7 40.9 28.9 28.9
60 63 94.26 90.48 83.5 70.4 52.0 40.3 28.4 28.4
62.5 65.5 94.17 90.28 83.1 69.9 51.3 39.6 27.8 27.8
65 68 94.07 90.07 82.6 69.3 50.5 38.9 27.2 27.2
67.5 70.5 93.97 89.85 82.2 68.6 49.6 38.2 26.5 26.5
70 73 93.86 89.62 81.7 68.0 48.8 37.4 25.9 25.9
72.5 75.5 93.76 89.39 81.2 67.3 48.0 36.7 25.2 25.2
75 78 93.66 89.18 80.8 66.7 47.2 36.0 24.6 24.6
77.5 80.5 93.56 88.97 80.3 66.1 46.4 35.3 24.0 24.0
80 83 93.48 88.78 79.9 65.6 45.7 34.7 23.4 23.4
82.5 85.5 93.4 88.62 79.6 65.1 45.1 34.2 22.9 22.9
85 88 93.34 88.49 79.3 64.7 44.6 33.7 22.5 22.5
87.5 90.5 93.29 88.38 79.1 64.4 44.2 33.4 22.2 22.2
90 93 93.25 88.3 78.9 64.2 43.9 33.1 22.0 22.0
92.5 95.5 93.29 88.38 79.1 64.4 44.2 33.4 22.2 22.2
95 98 93.34 88.49 79.3 64.7 44.6 33.7 22.5 22.5
97.5 100.5 93.4 88.62 79.6 65.1 45.1 34.2 22.9 22.9
100 103 93.48 88.78 79.9 65.6 45.7 34.7 23.4 23.4
102.5 105.5 93.56 88.97 80.3 66.1 46.4 35.3 24.0 24.0
105 108 93.66 89.18 80.8 66.7 47.2 36.0 24.6 24.6
107.5 110.5 93.76 89.39 81.2 67.3 48.0 36.7 25.2 25.2
110 113 93.86 89.62 81.7 68.0 48.8 37.4 25.9 25.9
112.5 115.5 93.97 89.85 82.2 68.6 49.6 38.2 26.5 26.5
115 118 94.07 90.07 82.6 69.3 50.5 38.9 27.2 27.2
117.5 120.5 94.17 90.28 83.1 69.9 51.3 39.6 27.8 27.8
120 123 94.26 90.48 83.5 70.4 52.0 40.3 28.4 28.4
122.5 125.5 94.35 90.66 83.9 70.9 52.7 40.9 28.9 28.9
125 128 94.42 90.81 84.2 71.4 53.2 41.4 29.4 29.4
127.5 130.5 94.47 90.94 84.5 71.7 53.7 41.8 29.7 29.7
130 133 94.52 91.03 84.7 72.0 54.0 42.1 30.0 30.0
132.5 135.5 94.54 91.08 84.8 72.1 54.2 42.2 30.1 30.1
135 138 94.55 91.1 84.8 72.2 54.3 42.3 30.2 30.2
137.5 140.5 94.54 91.08 84.8 72.1 54.2 42.2 30.1 30.1
140 143 94.52 91.03 84.7 72.0 54.0 42.1 30.0 29.9
142.5 145.5 94.48 90.94 84.5 71.7 53.7 41.8 29.6 29.6
145 148 94.42 90.81 84.2 71.4 53.2 41.4 29.2 29.2
147.5 150.5 94.36 90.66 83.9 70.9 52.7 40.9 28.7 28.6
150 153 94.28 90.48 83.5 70.4 52.0 40.3 28.1 28.0
152.5 155.5 94.19 90.28 83.1 69.9 51.3 39.6 27.4 27.2
155 158 94.1 90.07 82.6 69.3 50.5 38.9 26.7 26.5
157.5 160.5 94.0 89.85 82.2 68.6 49.6 38.2 25.9 25.6
160 163 93.91 89.62 81.7 68.0 48.8 37.4 25.1 24.8
162.5 165.5 93.81 89.39 81.2 67.3 48.0 36.7 24.3 24.0
165 168 93.71 89.18 80.8 66.7 47.2 36.0 23.6 23.2
167.5 170.5 93.62 88.97 80.3 66.1 46.4 35.3 22.9 22.5
170 173 93.54 88.78 79.9 65.6 45.7 34.7 22.3 21.8
172.5 175.5 93.47 88.62 79.6 65.1 45.1 34.2 21.7 21.2
175 178 93.41 88.49 79.3 64.7 44.6 33.7 21.2 20.7
177.5 180.5 93.36 88.38 79.1 64.4 44.2 33.4 20.9 20.3
180 183 93.33 88.3 78.9 64.2 43.9 33.1 20.6 20.0
182.5 185.5 93.36 88.38 79.1 64.4 44.2 33.4 20.9 20.3
185 188 93.41 88.49 79.3 64.7 44.6 33.7 21.2 20.7
187.5 190.5 93.47 88.62 79.6 65.1 45.1 34.2 21.7 21.2
190 193 93.54 88.78 79.9 65.6 45.7 34.7 22.3 21.8
192.5 195.5 93.62 88.97 80.3 66.1 46.4 35.3 22.9 22.5
195 198 93.71 89.18 80.8 66.7 47.2 36.0 23.6 23.2
197.5 200.5 93.81 89.39 81.2 67.3 48.0 36.7 24.3 24.0
200 203 93.91 89.62 81.7 68.0 48.8 37.4 25.1 24.8
202.5 205.5 94.0 89.85 82.2 68.6 49.6 38.2 25.9 25.6
205 208 94.1 90.07 82.6 69.3 50.5 38.9 26.7 26.5
207.5 210.5 94.19 90.28 83.1 69.9 51.3 39.6 27.4 27.2
210 213 94.28 90.48 83.5 70.4 52.0 40.3 28.1 28.0
212.5 215.5 94.36 90.66 83.9 70.9 52.7 40.9 28.7 28.6
215 218 94.42 90.81 84.2 71.4 53.2 41.4 29.2 29.2
217.5 220.5 94.48 90.94 84.5 71.7 53.7 41.8 29.6 29.6
220 223 94.52 91.03 84.7 72.0 54.0 42.1 30.0 29.9
222.5 225.5 94.54 91.08 84.8 72.1 54.2 42.2 30.1 30.1
225 228 94.55 91.1 84.8 72.2 54.3 42.3 30.2 30.2
227.5 230.5 94.54 91.08 84.8 72.1 54.2 42.2 30.1 30.1
230 233 94.52 91.03 84.7 72.0 54.0 42.1 30.0 30.0
232.5 235.5 94.47 90.94 84.5 71.7 53.7 41.8 29.7 29.7
235 238 94.42 90.81 84.2 71.4 53.2 41.4 29.4 29.4
237.5 240.5 94.35 90.66 83.9 70.9 52.7 40.9 28.9 28.9
240 243 94.26 90.48 83.5 70.4 52.0 40.3 28.4 28.4
242.5 245.5 94.17 90.28 83.1 69.9 51.3 39.6 27.8 27.8
245 248 94.07 90.07 82.6 69.3 50.5 38.9 27.2 27.2
247.5 250.5 93.97 89.85 82.2 68.6 49.6 38.2 26.5 26.5
250 253 93.86 89.62 81.7 68.0 48.8 37.4 25.9 25.9
252.5 255.5 93.76 89.39 81.2 67.3 48.0 36.7 25.2 25.2
255 258 93.66 89.18 80.8 66.7 47.2 36.0 24.6 24.6
257.5 260.5 93.56 88.97 80.3 66.1 46.4 35.3 24.0 24.0
260 263 93.48 88.78 79.9 65.6 45.7 34.7 23.4 23.4
262.5 265.5 93.4 88.62 79.6 65.1 45.1 34.2 22.9 22.9
265 268 93.34 88.49 79.3 64.7 44.6 33.7 22.5 22.5
267.5 270.5 93.29 88.38 79.1 64.4 44.2 33.4 22.2 22.2
270 273 93.25 88.3 78.9 64.2 43.9 33.1 22.0 22.0
272.5 275.5 93.29 88.38 79.1 64.4 44.2 33.4 22.2 22.2
275 278 93.34 88.49 79.3 64.7 44.6 33.7 22.5 22.5
277.5 280.5 93.4 88.62 79.6 65.1 45.1 34.2 22.9 22.9
280 283 93.48 88.78 79.9 65.6 45.7 34.7 23.4 23.4
282.5 285.5 93.56 88.97 80.3 66.1 46.4 35.3 24.0 24.0
285 288 93.66 89.18 80.8 66.7 47.2 36.0 24.6 24.6
287.5 290.5 93.76 89.39 81.2 67.3 48.0 36.7 25.2 25.2
290 293 93.86 89.62 81.7 68.0 48.8 37.4 25.9 25.9
292.5 295.5 93.97 89.85 82.2 68.6 49.6 38.2 26.5 26.5
295 298 94.07 90.07 82.6 69.3 50.5 38.9 27.2 27.2
297.5 300.5 94.17 90.28 83.1 69.9 51.3 39.6 27.8 27.8
300 303 94.26 90.48 83.5 70.4 52.0 40.3 28.4 28.4
302.5 305.5 94.35 90.66 83.9 70.9 52.7 40.9 28.9 28.9
305 308 94.42 90.81 84.2 71.4 53.2 41.4 29.4 29.4
307.5 310.5 94.47 90.94 84.5 71.7 53.7 41.8 29.7 29.7
310 313 94.52 91.03 84.7 72.0 54.0 42.1 30.0 30.0
312.5 315.5 94.54 91.08 84.8 72.1 54.2 42.2 30.1 30.1
315 318 94.55 91.1 84.8 72.2 54.3 42.3 30.2 30.2
317.5 320.5 94.54 91.08 84.8 72.1 54.2 42.2 30.1 30.1
320 323 94.52 91.03 84.7 72.0 54.0 42.1 30.0 30.0
322.5 325.5 94.48 90.94 84.5 71.7 53.7 41.8 29.7 29.7
325 328 94.42 90.81 84.2 71.4 53.2 41.4 29.2 29.2
}\TD

\pgfplotstableread{
xf xd e1 e2 e3 e4 e5 e6 e7 e7d
-45 -42 95.89 93.74 89.7 81.1 67.2 56.3 45.4 45.4
-42.5 -39.5 95.89 93.73 89.68 81.1 67.1 56.2 45.3 45.3
-40 -37 95.88 93.7 89.62 81.0 67.0 56.1 45.2 45.2
-37.5 -34.5 95.86 93.66 89.51 80.8 66.7 55.8 44.9 44.9
-35 -32 95.83 93.6 89.37 80.6 66.4 55.4 44.4 44.4
-32.5 -29.5 95.8 93.52 89.19 80.3 65.9 55.0 43.9 43.9
-30 -27 95.76 93.43 88.98 80.0 65.4 54.4 43.3 43.3
-27.5 -24.5 95.72 93.33 88.75 79.6 64.8 53.9 42.7 42.7
-25 -22 95.68 93.23 88.5 79.2 64.2 53.2 41.9 41.9
-22.5 -19.5 95.64 93.12 88.24 78.8 63.5 52.5 41.2 41.2
-20 -17 95.59 93.0 87.98 78.4 62.9 51.9 40.4 40.4
-17.5 -14.5 95.54 92.89 87.72 78.0 62.2 51.2 39.7 39.7
-15 -12 95.5 92.79 87.47 77.6 61.6 50.5 38.9 38.9
-12.5 -9.5 95.46 92.68 87.23 77.2 61.0 49.9 38.3 38.3
-10 -7 95.42 92.59 87.01 76.9 60.4 49.4 37.6 37.6
-7.5 -4.5 95.39 92.51 86.82 76.6 59.9 48.9 37.1 37.1
-5 -2 95.36 92.44 86.67 76.3 59.5 48.5 36.6 36.6
-2.5 0.5 95.34 92.39 86.54 76.1 59.2 48.1 36.3 36.3
0 3 95.32 92.35 86.45 76.0 59.0 47.9 36.0 36.0
2.5 5.5 95.34 92.39 86.54 76.1 59.2 48.1 36.3 36.3
5 8 95.36 92.44 86.67 76.3 59.5 48.5 36.6 36.6
7.5 10.5 95.39 92.51 86.82 76.6 59.9 48.9 37.1 37.1
10 13 95.42 92.59 87.01 76.9 60.4 49.4 37.6 37.6
12.5 15.5 95.46 92.68 87.23 77.2 61.0 49.9 38.3 38.3
15 18 95.5 92.79 87.47 77.6 61.6 50.5 38.9 38.9
17.5 20.5 95.54 92.89 87.72 78.0 62.2 51.2 39.7 39.7
20 23 95.59 93.0 87.98 78.4 62.9 51.9 40.4 40.4
22.5 25.5 95.64 93.12 88.24 78.8 63.5 52.5 41.2 41.2
25 28 95.68 93.23 88.5 79.2 64.2 53.2 41.9 41.9
27.5 30.5 95.72 93.33 88.75 79.6 64.8 53.9 42.7 42.7
30 33 95.76 93.43 88.98 80.0 65.4 54.4 43.3 43.3
32.5 35.5 95.8 93.52 89.19 80.3 65.9 55.0 43.9 43.9
35 38 95.83 93.6 89.37 80.6 66.4 55.4 44.4 44.4
37.5 40.5 95.86 93.66 89.51 80.8 66.7 55.8 44.9 44.9
40 43 95.88 93.7 89.62 81.0 67.0 56.1 45.2 45.2
42.5 45.5 95.89 93.73 89.68 81.1 67.1 56.2 45.3 45.3
45 48 95.89 93.74 89.7 81.1 67.2 56.3 45.4 45.4
47.5 50.5 95.88 93.73 89.68 81.1 67.2 56.3 45.4 45.4
50 53 95.87 93.7 89.63 81.0 67.0 56.1 45.2 45.2
52.5 55.5 95.85 93.66 89.53 80.8 66.8 55.9 44.9 44.9
55 58 95.82 93.6 89.4 80.6 66.4 55.5 44.6 44.6
57.5 60.5 95.79 93.52 89.25 80.4 66.0 55.1 44.2 44.2
60 63 95.75 93.43 89.06 80.1 65.5 54.7 43.7 43.7
62.5 65.5 95.7 93.33 88.85 79.8 65.0 54.1 43.1 43.1
65 68 95.65 93.23 88.63 79.4 64.4 53.6 42.5 42.5
67.5 70.5 95.6 93.12 88.4 79.0 63.8 53.0 41.9 41.9
70 73 95.55 93.0 88.17 78.7 63.2 52.4 41.3 41.3
72.5 75.5 95.49 92.89 87.93 78.3 62.6 51.8 40.6 40.6
75 78 95.44 92.79 87.71 77.9 62.0 51.2 40.0 40.0
77.5 80.5 95.4 92.68 87.5 77.6 61.4 50.7 39.5 39.5
80 83 95.35 92.59 87.3 77.3 60.9 50.2 39.0 39.0
82.5 85.5 95.32 92.51 87.13 77.0 60.5 49.8 38.5 38.5
85 88 95.28 92.44 86.99 76.8 60.1 49.4 38.1 38.1
87.5 90.5 95.26 92.39 86.88 76.6 59.8 49.1 37.8 37.8
90 93 95.24 92.35 86.8 76.5 59.6 48.9 37.6 37.6
92.5 95.5 95.26 92.39 86.88 76.6 59.8 49.1 37.8 37.8
95 98 95.28 92.44 86.99 76.8 60.1 49.4 38.1 38.1
97.5 100.5 95.32 92.51 87.13 77.0 60.5 49.8 38.5 38.5
100 103 95.35 92.59 87.3 77.3 60.9 50.2 39.0 39.0
102.5 105.5 95.4 92.68 87.5 77.6 61.4 50.7 39.5 39.5
105 108 95.44 92.79 87.71 77.9 62.0 51.2 40.0 40.0
107.5 110.5 95.49 92.89 87.93 78.3 62.6 51.8 40.6 40.6
110 113 95.55 93.0 88.17 78.7 63.2 52.4 41.3 41.3
112.5 115.5 95.6 93.12 88.4 79.0 63.8 53.0 41.9 41.9
115 118 95.65 93.23 88.63 79.4 64.4 53.6 42.5 42.5
117.5 120.5 95.7 93.33 88.85 79.8 65.0 54.1 43.1 43.1
120 123 95.75 93.43 89.06 80.1 65.5 54.7 43.7 43.7
122.5 125.5 95.79 93.52 89.25 80.4 66.0 55.1 44.2 44.2
125 128 95.82 93.6 89.4 80.6 66.4 55.5 44.6 44.6
127.5 130.5 95.85 93.66 89.53 80.8 66.8 55.9 44.9 44.9
130 133 95.87 93.7 89.63 81.0 67.0 56.1 45.2 45.2
132.5 135.5 95.88 93.73 89.68 81.1 67.2 56.3 45.4 45.4
135 138 95.89 93.74 89.7 81.1 67.2 56.3 45.4 45.4
137.5 140.5 95.89 93.73 89.68 81.1 67.1 56.2 45.3 45.3
140 143 95.88 93.7 89.62 81.0 67.0 56.1 45.2 45.1
142.5 145.5 95.86 93.66 89.51 80.8 66.7 55.8 44.9 44.8
145 148 95.83 93.6 89.37 80.5 66.3 55.4 44.4 44.4
147.5 150.5 95.8 93.52 89.19 80.2 65.9 54.9 43.9 43.8
150 153 95.76 93.43 88.98 79.9 65.3 54.4 43.3 43.2
152.5 155.5 95.72 93.33 88.75 79.5 64.8 53.8 42.7 42.4
155 158 95.68 93.23 88.5 79.1 64.1 53.1 41.9 41.7
157.5 160.5 95.64 93.12 88.24 78.6 63.4 52.4 41.2 40.8
160 163 95.59 93.0 87.98 78.2 62.8 51.7 40.4 40.0
162.5 165.5 95.54 92.89 87.72 77.8 62.1 51.0 39.7 39.2
165 168 95.5 92.79 87.47 77.3 61.4 50.3 38.9 38.4
167.5 170.5 95.46 92.68 87.23 76.9 60.8 49.7 38.3 37.7
170 173 95.42 92.59 87.01 76.6 60.3 49.1 37.6 37.0
172.5 175.5 95.39 92.51 86.82 76.2 59.8 48.6 37.1 36.4
175 178 95.36 92.44 86.67 76.0 59.4 48.2 36.6 35.9
177.5 180.5 95.34 92.39 86.54 75.8 59.0 47.8 36.3 35.5
180 183 95.32 92.35 86.45 75.6 58.8 47.6 36.0 35.2
182.5 185.5 95.34 92.39 86.54 75.8 59.0 47.8 36.3 35.5
185 188 95.36 92.44 86.67 76.0 59.4 48.2 36.6 35.9
187.5 190.5 95.39 92.51 86.82 76.2 59.8 48.6 37.1 36.4
190 193 95.42 92.59 87.01 76.6 60.3 49.1 37.6 37.0
192.5 195.5 95.46 92.68 87.23 76.9 60.8 49.7 38.3 37.7
195 198 95.5 92.79 87.47 77.3 61.4 50.3 38.9 38.4
197.5 200.5 95.54 92.89 87.72 77.8 62.1 51.0 39.7 39.2
200 203 95.59 93.0 87.98 78.2 62.8 51.7 40.4 40.0
202.5 205.5 95.64 93.12 88.24 78.6 63.4 52.4 41.2 40.8
205 208 95.68 93.23 88.5 79.1 64.1 53.1 41.9 41.7
207.5 210.5 95.72 93.33 88.75 79.5 64.8 53.8 42.7 42.4
210 213 95.76 93.43 88.98 79.9 65.3 54.4 43.3 43.2
212.5 215.5 95.8 93.52 89.19 80.2 65.9 54.9 43.9 43.8
215 218 95.83 93.6 89.37 80.5 66.3 55.4 44.4 44.4
217.5 220.5 95.86 93.66 89.51 80.8 66.7 55.8 44.9 44.8
220 223 95.88 93.7 89.62 81.0 67.0 56.1 45.2 45.1
222.5 225.5 95.89 93.73 89.68 81.1 67.1 56.2 45.3 45.3
225 228 95.89 93.74 89.7 81.1 67.2 56.3 45.4 45.4
227.5 230.5 95.88 93.73 89.68 81.1 67.2 56.3 45.4 45.4
230 233 95.87 93.7 89.63 81.0 67.0 56.1 45.2 45.2
232.5 235.5 95.85 93.66 89.53 80.8 66.8 55.9 44.9 44.9
235 238 95.82 93.6 89.4 80.6 66.4 55.5 44.6 44.6
237.5 240.5 95.79 93.52 89.25 80.4 66.0 55.1 44.2 44.2
240 243 95.75 93.43 89.06 80.1 65.5 54.7 43.7 43.7
242.5 245.5 95.7 93.33 88.85 79.8 65.0 54.1 43.1 43.1
245 248 95.65 93.23 88.63 79.4 64.4 53.6 42.5 42.5
247.5 250.5 95.6 93.12 88.4 79.0 63.8 53.0 41.9 41.9
250 253 95.55 93.0 88.17 78.7 63.2 52.4 41.3 41.3
252.5 255.5 95.49 92.89 87.93 78.3 62.6 51.8 40.6 40.6
255 258 95.44 92.79 87.71 77.9 62.0 51.2 40.0 40.0
257.5 260.5 95.4 92.68 87.5 77.6 61.4 50.7 39.5 39.5
260 263 95.35 92.59 87.3 77.3 60.9 50.2 39.0 39.0
262.5 265.5 95.32 92.51 87.13 77.0 60.5 49.8 38.5 38.5
265 268 95.28 92.44 86.99 76.8 60.1 49.4 38.1 38.1
267.5 270.5 95.26 92.39 86.88 76.6 59.8 49.1 37.8 37.8
270 273 95.24 92.35 86.8 76.5 59.6 48.9 37.6 37.6
272.5 275.5 95.26 92.39 86.88 76.6 59.8 49.1 37.8 37.8
275 278 95.28 92.44 86.99 76.8 60.1 49.4 38.1 38.1
277.5 280.5 95.32 92.51 87.13 77.0 60.5 49.8 38.5 38.5
280 283 95.35 92.59 87.3 77.3 60.9 50.2 39.0 39.0
282.5 285.5 95.4 92.68 87.5 77.6 61.4 50.7 39.5 39.5
285 288 95.44 92.79 87.71 77.9 62.0 51.2 40.0 40.0
287.5 290.5 95.49 92.89 87.93 78.3 62.6 51.8 40.6 40.6
290 293 95.55 93.0 88.17 78.7 63.2 52.4 41.3 41.3
292.5 295.5 95.6 93.12 88.4 79.0 63.8 53.0 41.9 41.9
295 298 95.65 93.23 88.63 79.4 64.4 53.6 42.5 42.5
297.5 300.5 95.7 93.33 88.85 79.8 65.0 54.1 43.1 43.1
300 303 95.75 93.43 89.06 80.1 65.5 54.7 43.7 43.7
302.5 305.5 95.79 93.52 89.25 80.4 66.0 55.1 44.2 44.2
305 308 95.82 93.6 89.4 80.6 66.4 55.5 44.6 44.6
307.5 310.5 95.85 93.66 89.53 80.8 66.8 55.9 44.9 44.9
310 313 95.87 93.7 89.63 81.0 67.0 56.1 45.2 45.2
312.5 315.5 95.88 93.73 89.68 81.1 67.2 56.3 45.4 45.4
315 318 95.89 93.74 89.7 81.1 67.2 56.3 45.4 45.4
317.5 320.5 95.89 93.73 89.68 81.1 67.1 56.2 45.3 45.3
320 323 95.88 93.7 89.62 81.0 67.0 56.1 45.2 45.2
322.5 325.5 95.86 93.66 89.51 80.8 66.7 55.8 44.9 44.9
325 328 95.83 93.6 89.37 80.6 66.4 55.4 44.4 44.4
}\TE

\begin{document}
\begin{tikzpicture}
\useasboundingbox (0,0) rectangle (1037pt,-1077pt);

\begin{axis}[sub,at={(214pt,-25pt)},ymin=73,ymax=82.1,ytick={75,80}]
\addplot[dat=navyD] table[x=xd,y=a1]{\TA};
\addplot[fit=navyF] table[x=xf,y=a1]{\TA};
\legend{7 K,7 K\_Fit}
\end{axis}
\begin{axis}[sub,at={(214pt,-97pt)},ymin=55,ymax=70.1,ytick={58,68}]
\addplot[dat=greenD] table[x=xd,y=a2]{\TA};
\addplot[fit=greenF] table[x=xf,y=a2]{\TA};
\legend{6 K,6 K\_Fit}
\end{axis}
\begin{axis}[sub,at={(214pt,-169pt)},ymin=47.6,ymax=62.6,ytick={50,60}]
\addplot[dat=magD] table[x=xd,y=a3]{\TA};
\addplot[fit=magF] table[x=xf,y=a3]{\TA};
\legend{5.5 K,5.5 K\_Fit}
\end{axis}
\begin{axis}[sub,at={(214pt,-241pt)},ymin=37.6,ymax=52.5,ytick={40,50}]
\addplot[dat=bluD] table[x=xd,y=a4]{\TA};
\addplot[fit=bluF] table[x=xf,y=a4]{\TA};
\legend{5 K,5 K\_Fit}
\end{axis}
\begin{axis}[sub,at={(214pt,-313pt)},ymin=28.2,ymax=43.9,ytick={30,40}]
\addplot[dat=redD] table[x=xd,y=a5]{\TA};
\addplot[fit=redF] table[x=xf,y=a5]{\TA};
\legend{4.5 K,4.5 K\_Fit}
\end{axis}
\begin{axis}[sub,bot,at={(214pt,-385pt)},ymin=18.2,ymax=34.8,ytick={20,32}]
\addplot[dat=blkD] table[x=xd,y=a6d]{\TA};
\addplot[fit=blkF] table[x=xf,y=a6]{\TA};
\legend{4 K,4 K\_Fit}
\end{axis}

\begin{axis}[sub,at={(565pt,-25pt)},ymin=82.9,ymax=89,ytick={84,88}]
\addplot[dat=navyD] table[x=xd,y=b1]{\TB};
\addplot[fit=navyF] table[x=xf,y=b1]{\TB};
\legend{7 K,7 K\_Fit}
\end{axis}
\begin{axis}[sub,at={(565pt,-97pt)},ymin=70.1,ymax=80,ytick={72,78}]
\addplot[dat=greenD] table[x=xd,y=b2]{\TB};
\addplot[fit=greenF] table[x=xf,y=b2]{\TB};
\legend{6 K,6 K\_Fit}
\end{axis}
\begin{axis}[sub,at={(565pt,-169pt)},ymin=53.1,ymax=66.9,ytick={55,65}]
\addplot[dat=magD] table[x=xd,y=b3]{\TB};
\addplot[fit=magF] table[x=xf,y=b3]{\TB};
\legend{5 K,5 K\_Fit}
\end{axis}
\begin{axis}[sub,at={(565pt,-241pt)},ymin=42.5,ymax=60.1,ytick={46,56}]
\addplot[dat=bluD] table[x=xd,y=b4]{\TB};
\addplot[fit=bluF] table[x=xf,y=b4]{\TB};
\legend{4.5 K,4.5 K\_Fit}
\end{axis}
\begin{axis}[sub,at={(565pt,-313pt)},ymin=32.6,ymax=50,ytick={36,48}]
\addplot[dat=redD] table[x=xd,y=b5]{\TB};
\addplot[fit=redF] table[x=xf,y=b5]{\TB};
\legend{4 K,4 K\_Fit}
\end{axis}
\begin{axis}[sub,bot,at={(565pt,-385pt)},ymin=12.1,ymax=28.9,ytick={15,25}]
\addplot[dat=blkD] table[x=xd,y=b6d]{\TB};
\addplot[fit=blkF] table[x=xf,y=b6]{\TB};
\legend{3 K,3 K\_Fit}
\end{axis}

\begin{axis}[sub,at={(39pt,-533pt)},ymin=89.16,ymax=92.74,ytick={90,91,92}]
\addplot[dat=purD] table[x=xd,y=c1]{\TC};
\addplot[fit=purF] table[x=xf,y=c1]{\TC};
\legend{7 K,7 K\_Fit}
\end{axis}
\begin{axis}[sub,at={(39pt,-605pt)},ymin=80,ymax=87.8,ytick={81,84,87}]
\addplot[dat=navyD] table[x=xd,y=c2]{\TC};
\addplot[fit=navyF] table[x=xf,y=c2]{\TC};
\legend{6 K,6 K\_Fit}
\end{axis}
\begin{axis}[sub,at={(39pt,-677pt)},ymin=65.8,ymax=78.3,ytick={68,72,76}]
\addplot[dat=greenD] table[x=xd,y=c3]{\TC};
\addplot[fit=greenF] table[x=xf,y=c3]{\TC};
\legend{5 K,5 K\_Fit}
\end{axis}
\begin{axis}[sub,at={(39pt,-749pt)},ymin=47,ymax=62.7,ytick={50,54,60},minor y tick num=0]
\addplot[dat=magD] table[x=xd,y=c4]{\TC};
\addplot[fit=magF] table[x=xf,y=c4]{\TC};
\legend{4 K,4 K\_Fit}
\end{axis}
\begin{axis}[sub,at={(39pt,-821pt)},ymin=36.6,ymax=53.1,ytick={40,44,50},minor y tick num=0]
\addplot[dat=bluD] table[x=xd,y=c5]{\TC};
\addplot[fit=bluF] table[x=xf,y=c5]{\TC};
\legend{3.5 K,3.5 K\_Fit}
\end{axis}
\begin{axis}[sub,at={(39pt,-893pt)},ymin=25.1,ymax=42.4,ytick={28,33.8,40},yticklabels={28,33,40},minor y tick num=0]
\addplot[dat=redD] table[x=xd,y=c6]{\TC};
\addplot[fit=redF] table[x=xf,y=c6]{\TC};
\legend{3 K,3 K\_Fit}
\end{axis}
\begin{axis}[sub,bot,at={(39pt,-965pt)},ymin=16,ymax=30.5,ytick={17,22.6,27},yticklabels={17,22,27},minor y tick num=0]
\addplot[dat=blkD] table[x=xd,y=c7d]{\TC};
\addplot[fit=blkF] table[x=xf,y=c7]{\TC};
\legend{2.5 K,2.5 K\_Fit}
\end{axis}

\begin{axis}[sub,at={(387pt,-533pt)},ymin=92.92,ymax=95,ytick={93.5,94,94.5}]
\addplot[dat=purD] table[x=xd,y=d1]{\TD};
\addplot[fit=purF] table[x=xf,y=d1]{\TD};
\legend{7 K,7 K\_Fit}
\end{axis}
\begin{axis}[sub,at={(387pt,-605pt)},ymin=87.43,ymax=91.8,ytick={88,89,91},minor y tick num=0]
\addplot[dat=navyD] table[x=xd,y=d2]{\TD};
\addplot[fit=navyF] table[x=xf,y=d2]{\TD};
\legend{6 K,6 K\_Fit}
\end{axis}
\begin{axis}[sub,at={(387pt,-677pt)},ymin=77.5,ymax=86.5,ytick={79,82,85}]
\addplot[dat=greenD] table[x=xd,y=d3]{\TD};
\addplot[fit=greenF] table[x=xf,y=d3]{\TD};
\legend{5 K,5 K\_Fit}
\end{axis}
\begin{axis}[sub,at={(387pt,-749pt)},ymin=62,ymax=74,ytick={64,68,72}]
\addplot[dat=magD] table[x=xd,y=d4]{\TD};
\addplot[fit=magF] table[x=xf,y=d4]{\TD};
\legend{4 K,4 K\_Fit}
\end{axis}
\begin{axis}[sub,at={(387pt,-821pt)},ymin=41.5,ymax=56.5,ytick={44,48,54},minor y tick num=0]
\addplot[dat=bluD] table[x=xd,y=d5]{\TD};
\addplot[fit=bluF] table[x=xf,y=d5]{\TD};
\legend{3 K,3 K\_Fit}
\end{axis}
\begin{axis}[sub,at={(387pt,-893pt)},ymin=30.75,ymax=44.25,ytick={33,37,42},minor y tick num=0]
\addplot[dat=redD] table[x=xd,y=d6]{\TD};
\addplot[fit=redF] table[x=xf,y=d6]{\TD};
\legend{2.5 K,2.5 K\_Fit}
\end{axis}
\begin{axis}[sub,bot,at={(387pt,-965pt)},ymin=17.5,ymax=32.5,ytick={20,24,30},minor y tick num=0]
\addplot[dat=blkD] table[x=xd,y=d7d]{\TD};
\addplot[fit=blkF] table[x=xf,y=d7]{\TD};
\legend{2 K,2 K\_Fit}
\end{axis}

\begin{axis}[sub,at={(733pt,-533pt)},ymin=95.09,ymax=96,ytick={95.3,95.5,95.8},minor y tick num=0]
\addplot[dat=purD] table[x=xd,y=e1]{\TE};
\addplot[fit=purF] table[x=xf,y=e1]{\TE};
\legend{7 K,7 K\_Fit}
\end{axis}
\begin{axis}[sub,at={(733pt,-605pt)},ymin=91.75,ymax=94,ytick={92,92.7,93.5},minor y tick num=0]
\addplot[dat=navyD] table[x=xd,y=e2]{\TE};
\addplot[fit=navyF] table[x=xf,y=e2]{\TE};
\legend{6 K,6 K\_Fit}
\end{axis}
\begin{axis}[sub,at={(733pt,-677pt)},ymin=85,ymax=91,ytick={86,88,90}]
\addplot[dat=greenD] table[x=xd,y=e3]{\TE};
\addplot[fit=greenF] table[x=xf,y=e3]{\TE};
\legend{5 K,5 K\_Fit}
\end{axis}
\begin{axis}[sub,at={(733pt,-749pt)},ymin=73.5,ymax=82.5,ytick={75,78,81}]
\addplot[dat=magD] table[x=xd,y=e4]{\TE};
\addplot[fit=magF] table[x=xf,y=e4]{\TE};
\legend{4 K,4 K\_Fit}
\end{axis}
\begin{axis}[sub,at={(733pt,-821pt)},ymin=55.75,ymax=69.25,ytick={58,62,67},minor y tick num=0]
\addplot[dat=bluD] table[x=xd,y=e5]{\TE};
\addplot[fit=bluF] table[x=xf,y=e5]{\TE};
\legend{3 K,3 K\_Fit}
\end{axis}
\begin{axis}[sub,at={(733pt,-893pt)},ymin=44.75,ymax=58.25,ytick={47,50,56},minor y tick num=0]
\addplot[dat=redD] table[x=xd,y=e6]{\TE};
\addplot[fit=redF] table[x=xf,y=e6]{\TE};
\legend{2.5 K,2.5 K\_Fit}
\end{axis}
\begin{axis}[sub,bot,at={(733pt,-965pt)},ymin=32.6,ymax=46.5,ytick={35,39.5,45},yticklabels={35,38,45},minor y tick num=0]
\addplot[dat=blkD] table[x=xd,y=e7d]{\TE};
\addplot[fit=blkF] table[x=xf,y=e7]{\TE};
\legend{2 K,2 K\_Fit}
\end{axis}

\begin{scope}[every node/.style={font=\fontsize{14}{14}\selectfont}]
\node at (357pt,-13pt) {\textit{B} = 12 T};
\node at (705pt,-13pt) {\textit{B} = 13 T};
\node at (177pt,-520pt) {\textit{B} = 14 T};
\node at (527pt,-520pt) {\textit{B} = 15 T};
\node at (872pt,-519pt) {\textit{B} = 16 T};
\end{scope}
\begin{scope}[every node/.style={font=\letterfont\bfseries\fontsize{17}{17}\selectfont}]
\node at (183pt,-12pt) {a};
\node at (533pt,-12pt) {b};
\node at (10pt,-519pt) {c};
\node at (355pt,-518pt) {d};
\node at (728pt,-518pt) {e};
\end{scope}
\begin{scope}[every node/.style={font=\fontsize{11.5}{12}\selectfont}]
\node at (350pt,-480pt) {\textit{φ} (°)};
\node at (700pt,-478pt) {\textit{φ} (°)};
\node at (172pt,-1063pt) {\textit{φ} (°)};
\node at (520pt,-1063pt) {\textit{φ} (°)};
\node at (867pt,-1063pt) {\textit{φ} (°)};
\node[rotate=90] at (193pt,-250pt) {\textit{R} (Ω)};
\node[rotate=90] at (543pt,-253pt) {\textit{R} (Ω)};
\node[rotate=90] at (18pt,-780pt) {\textit{R} (Ω)};
\node[rotate=90] at (359pt,-788pt) {\textit{R} (Ω)};
\node[rotate=90] at (704pt,-788pt) {\textit{R} (Ω)};
\end{scope}
\end{tikzpicture}
\end{document}
